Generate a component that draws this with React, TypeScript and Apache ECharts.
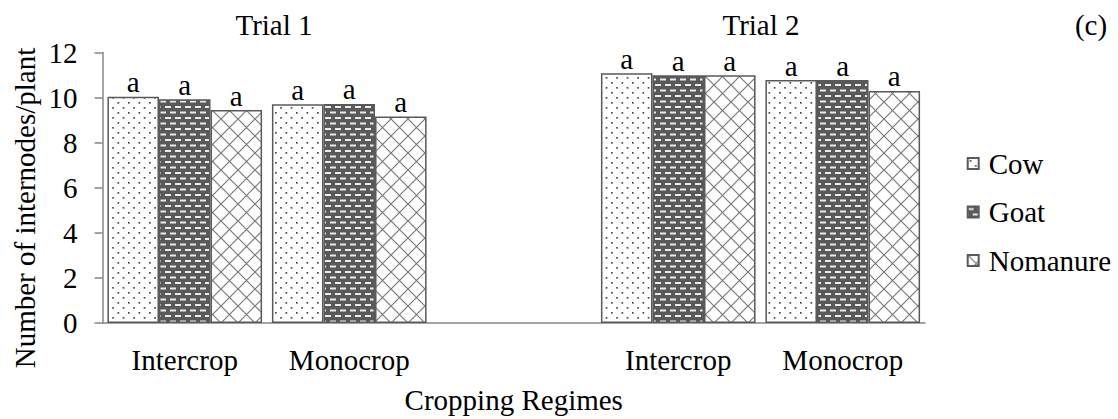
import React, { useEffect, useRef } from 'react';
import * as echarts from 'echarts';

// ---- data ----
const categories = ['Intercrop', 'Monocrop', '', 'Intercrop', 'Monocrop'];
const trialTitles = ['Trial 1', 'Trial 2'];
const panelTag = '(c)';
const seriesNames = ['Cow', 'Goat', 'Nomanure'];
const cowValues: (number | string)[] = [10.04, 9.71, '-', 11.08, 10.78];
const goatValues: (number | string)[] = [9.93, 9.72, '-', 11.0, 10.78];
const nomanureValues: (number | string)[] = [9.45, 9.16, '-', 11.0, 10.3];
const cowLetters = ['a', 'a', '', 'a', 'a'];
const goatLetters = ['a', 'a', '', 'a', 'a'];
const nomanureLetters = ['a', 'a', '', 'a', 'a'];
const yMin = 0;
const yMax = 12;
const yInterval = 2;
const yAxisTitle = 'Number of internodes/plant';
const xAxisTitle = 'Cropping Regimes';

const FONT = 'Liberation Serif';
const BORDER = '#595959';

function makePattern(kind: string): HTMLCanvasElement {
  const c = document.createElement('canvas');
  if (kind === 'dots') {
    c.width = 21;
    c.height = 10;
    const g = c.getContext('2d')!;
    g.fillStyle = '#ffffff';
    g.fillRect(0, 0, 21, 10);
    g.fillStyle = '#4a4a4a';
    g.fillRect(2, 2, 1.7, 1.7);
    g.fillRect(12.5, 2, 1.7, 1.7);
    g.fillRect(7.2, 7, 1.7, 1.7);
    g.fillRect(17.7, 7, 1.7, 1.7);
  } else if (kind === 'dashes') {
    c.width = 10;
    c.height = 11;
    const g = c.getContext('2d')!;
    g.fillStyle = '#595959';
    g.fillRect(0, 0, 10, 11);
    g.fillStyle = '#ececec';
    g.fillRect(0, 1.5, 6, 2);
    g.fillRect(5, 7, 5, 2);
    g.fillRect(0, 7, 1, 2);
  } else {
    c.width = 17;
    c.height = 17;
    const g = c.getContext('2d')!;
    g.fillStyle = '#ffffff';
    g.fillRect(0, 0, 17, 17);
    g.strokeStyle = '#7a7a7a';
    g.lineWidth = 1.2;
    g.beginPath();
    g.moveTo(0, 0);
    g.lineTo(17, 17);
    g.moveTo(17, 0);
    g.lineTo(0, 17);
    g.stroke();
  }
  return c;
}

export default function App() {
  const ref = useRef<HTMLDivElement>(null);
  useEffect(() => {
    if (!ref.current) return;
    const chart = echarts.init(ref.current, undefined, { renderer: 'svg' });
    const patterns = [makePattern('dots'), makePattern('dashes'), makePattern('cross')];
    const values = [cowValues, goatValues, nomanureValues];
    const letters = [cowLetters, goatLetters, nomanureLetters];
    const textBase = { fontFamily: FONT, color: '#000', fontSize: 29 };

    const option: any = {
      animation: false,
      backgroundColor: '#ffffff',
      textStyle: { fontFamily: FONT },
      grid: { left: 102.5, right: 193, top: 52.6, bottom: 95.7, containLabel: false },
      legend: {
        orient: 'vertical',
        left: 961.7,
        top: 144,
        itemWidth: 11,
        itemHeight: 11,
        itemGap: 19.5,
        icon: 'rect',
        data: seriesNames,
        textStyle: { ...textBase, lineHeight: 29, padding: [0, 0, 0, 5] },
      },
      xAxis: {
        type: 'category',
        data: categories,
        axisLine: { show: true, lineStyle: { color: '#868686', width: 1.5 } },
        axisTick: { show: false },
        axisLabel: { ...textBase, margin: 22, interval: 0 },
        name: xAxisTitle,
        nameLocation: 'middle',
        nameGap: 62,
        nameTextStyle: { ...textBase },
      },
      yAxis: {
        type: 'value',
        min: yMin,
        max: yMax,
        interval: yInterval,
        splitLine: { show: false },
        axisLine: { show: true, lineStyle: { color: '#868686', width: 1.5 } },
        axisTick: { show: true, length: 8, lineStyle: { color: '#868686', width: 1.5 } },
        axisLabel: { ...textBase, fontSize: 29, margin: 25 },
      },
      graphic: [
        {
          type: 'text',
          x: 25,
          y: 208,
          rotation: Math.PI / 2,
          style: { text: yAxisTitle, fontFamily: FONT, fontSize: 29, fill: '#000', textAlign: 'center', textVerticalAlign: 'middle' },
        },
        {
          type: 'text',
          x: 274,
          y: 25,
          style: { text: trialTitles[0], fontFamily: FONT, fontSize: 29, fill: '#000', textAlign: 'center', textVerticalAlign: 'middle' },
        },
        {
          type: 'text',
          x: 761,
          y: 25,
          style: { text: trialTitles[1], fontFamily: FONT, fontSize: 29, fill: '#000', textAlign: 'center', textVerticalAlign: 'middle' },
        },
        {
          type: 'text',
          x: 1091,
          y: 25,
          style: { text: panelTag, fontFamily: FONT, fontSize: 29, fill: '#000', textAlign: 'center', textVerticalAlign: 'middle' },
        },
      ],
      series: seriesNames.map((name, i) => ({
        type: 'bar',
        name,
        data: values[i],
        barGap: '0%',
        barCategoryGap: '6%',
        itemStyle: {
          color: { image: patterns[i], repeat: 'repeat' },
          borderColor: BORDER,
          borderWidth: 1.5,
        },
        label: {
          show: true,
          position: 'top',
          distance: 0,
          formatter: (p: any) => letters[i][p.dataIndex],
          ...textBase,
        },
      })),
    };
    chart.setOption(option);
    return () => chart.dispose();
  }, []);
  return (
    <div
      ref={ref}
      style={{ position: 'fixed', left: 0, top: 0, width: 1118, height: 419, background: '#fff' }}
    />
  );
}
